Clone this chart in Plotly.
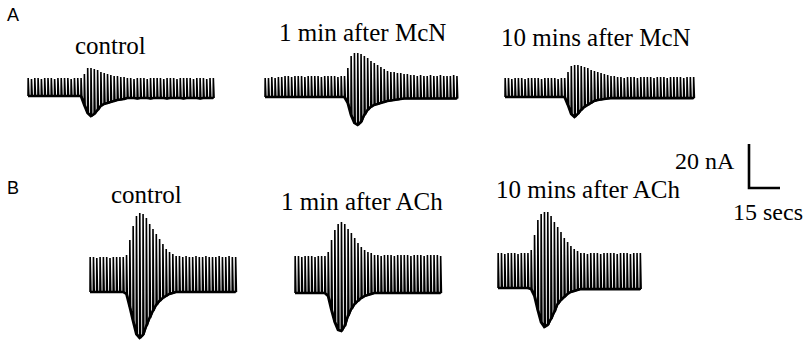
import plotly.graph_objects as go

# ---------------------------------------------------------------------------
# Recorded current responses to repeated test pulses (nA, relative to the
# pre-response baseline). One entry per stimulus; stimuli every STIM_PERIOD s.
# ---------------------------------------------------------------------------
STIM_PERIOD = 1.6  # s

# Row A: McN
a_control_top = [8.2, 7.7, 8.2, 8.2, 7.7, 8.2, 8.2, 8.2, 7.7, 8.2, 8.2, 8.2, 8.2, 7.7, 8.2, 8.2,
                 8.2,
                 10.0, 12.7, 12.7, 12.3, 11.8, 10.9, 10.5, 10.0, 9.5, 9.1, 9.1, 8.6, 8.6,
                 8.2, 8.2, 7.7, 8.2, 8.2, 8.2, 7.7, 8.2, 8.2, 8.2, 8.2, 7.7, 8.2, 8.2, 8.2, 7.7,
                 8.2, 8.2, 8.2, 8.2, 7.7, 8.2, 8.2, 8.2, 7.7, 8.2, 8.2]
a_control_bot = [0.0, 0.0, 0.0, 0.0, 0.0, 0.0, 0.0, 0.0, 0.0, 0.0, 0.0, 0.0, 0.0, 0.0, 0.0, 0.0,
                 0.0,
                 -4.1, -7.7, -9.1, -8.2, -6.4, -4.5, -3.6, -3.2, -2.7, -2.3, -1.8, -1.6, -1.4,
                 -0.9, -0.9, -0.9, -1.1, -0.9, -0.9, -0.9, -1.1, -0.9, -0.9, -0.9, -0.9, -1.1, -0.9,
                 -0.9, -0.9, -0.9, -1.1, -0.9, -0.9, -0.9, -0.9, -1.1, -0.9, -0.9, -0.9, -0.9]

a_mcn1_top = [8.6, 8.6, 9.1, 8.6, 9.1, 9.1,
              9.5, 9.5, 9.1, 9.5, 9.5, 9.5, 9.1, 9.5, 9.5, 9.5, 9.5, 9.1, 9.5, 9.5, 9.5, 9.5, 9.1,
              9.5, 9.5,
              13.2, 18.6, 20.0, 20.0, 19.5, 18.6, 17.7, 16.4, 15.5, 14.5, 13.6, 12.7, 11.8, 11.4,
              11.4, 10.9, 10.9, 10.5, 10.5, 10.0,
              10.0, 9.5, 10.0, 9.5, 9.5, 10.0, 9.5, 9.5, 10.0, 9.5, 9.5, 9.5, 10.0, 9.5]
a_mcn1_bot = [0.0, 0.0, 0.0, 0.0, 0.0, 0.0, 0.0, 0.0, 0.0, 0.0, 0.0, 0.0, 0.0, 0.0, 0.0, 0.0,
              0.0, 0.0, 0.0, 0.0, 0.0, 0.0, 0.0, 0.0, 0.0,
              -2.7, -8.2, -11.8, -12.7, -11.4, -8.2, -5.9, -4.5, -3.6, -3.2, -2.7, -2.3, -1.8,
              -1.6, -1.4, -1.1, -0.9,
              -0.7, -0.7, -0.7, -0.7, -0.7, -0.7, -0.7, -0.7, -0.7, -0.7, -0.7, -0.7, -0.7, -0.7,
              -0.7, -0.7, -0.7]

a_mcn10_top = [8.6, 8.6, 8.2, 8.6, 8.6, 8.6, 8.2, 8.6, 8.6, 8.6, 8.6, 8.2, 8.6, 8.6, 8.6, 8.6,
               8.2, 8.6, 8.6,
               11.4, 14.1, 14.5, 14.5, 14.1, 13.6, 13.2, 12.3, 11.8, 11.4, 10.9, 10.5, 10.0, 9.5,
               9.5,
               9.1, 9.1, 8.6, 9.1, 9.1, 9.1, 8.6, 9.1, 9.1, 9.1, 9.1, 8.6, 9.1, 9.1, 9.1, 8.6,
               9.1, 9.1, 9.1, 9.1, 8.6, 9.1, 9.1, 9.1]
a_mcn10_bot = [0.0, 0.0, 0.0, 0.0, 0.0, 0.0, 0.0, 0.0, 0.0, 0.0, 0.0, 0.0, 0.0, 0.0, 0.0, 0.0,
               0.0, 0.0, 0.0,
               -3.6, -7.7, -9.1, -7.7, -5.9, -4.5, -3.6, -2.7, -1.8, -1.4, -1.1, -0.9, -0.7,
               -0.5, -0.5, -0.5, -0.5, -0.5, -0.5, -0.5, -0.5, -0.5, -0.5, -0.5, -0.5, -0.5,
               -0.5, -0.5, -0.5, -0.5, -0.5, -0.5, -0.5, -0.5, -0.5, -0.5, -0.5, -0.5, -0.5]

# Row B: ACh
b_control_top = [15.9, 15.9, 15.5, 15.9, 15.9, 15.9, 15.5, 15.9, 15.9, 15.9, 15.9,
                 16.8, 23.6, 30.0, 34.5, 35.9, 35.5, 33.6, 30.9, 28.6, 26.4, 24.1, 21.8, 19.5,
                 18.2, 17.3,
                 16.4, 16.4, 15.9, 16.4, 15.9, 15.9, 16.4, 15.9, 15.9, 16.4, 15.9, 15.9, 15.9,
                 16.4, 15.9, 15.9, 16.4, 15.9, 15.9]
b_control_bot = [0.0, 0.0, 0.0, 0.0, 0.0, 0.0, 0.0, 0.0, 0.0, 0.0, 0.0,
                 -0.9, -6.8, -13.2, -19.1, -20.9, -19.5, -15.5, -11.8, -8.6, -5.9, -4.1, -2.7,
                 -1.8, -0.9, -0.5,
                 0.0, 0.0, 0.0, 0.0, 0.0, 0.0, 0.0, 0.0, 0.0, 0.0, 0.0, 0.0, 0.0, 0.0, 0.0, 0.0,
                 0.0, 0.0, 0.0]

b_ach1_top = [16.8, 16.8, 16.4, 16.8, 16.8, 16.8, 16.4, 16.8, 16.8, 16.8,
              18.6, 24.1, 28.6, 31.4, 32.3, 31.4, 29.1, 27.3, 25.0, 22.7, 20.9, 19.5, 18.6, 18.2,
              17.3, 17.3, 16.8, 17.3, 17.3, 17.3, 16.8, 17.3, 17.3, 17.3, 17.3, 16.8, 17.3, 17.3,
              17.3, 16.8, 17.3, 17.3, 17.3, 17.3, 16.8]
b_ach1_bot = [0.0, 0.0, 0.0, 0.0, 0.0, 0.0, 0.0, 0.0, 0.0, 0.0,
              -1.4, -7.7, -13.2, -16.8, -17.3, -15.0, -10.5, -7.3, -5.0, -3.6, -2.3, -1.4, -0.9,
              -0.5,
              0.0, 0.0, 0.0, 0.0, 0.0, 0.0, 0.0, 0.0, 0.0, 0.0, 0.0, 0.0, 0.0, 0.0, 0.0, 0.0,
              0.0, 0.0, 0.0, 0.0, 0.0]

b_ach10_top = [15.9, 15.9, 15.5, 15.9, 15.9, 15.9, 15.5, 15.9, 15.9, 15.9,
               17.3, 24.1, 30.9, 33.6, 34.5, 34.5, 32.7, 30.0, 27.7, 25.5, 22.7, 20.9, 19.1, 17.7,
               16.8,
               15.9, 15.9, 15.5, 15.9, 15.9, 15.9, 15.5, 15.9, 15.9, 15.9, 15.9, 15.5, 15.9, 15.9,
               15.9, 15.5, 15.9, 15.9, 15.9]
b_ach10_bot = [0.0, 0.0, 0.0, 0.0, 0.0, 0.0, 0.0, 0.0, 0.0, 0.0,
               -0.5, -3.6, -10.0, -15.5, -17.7, -16.8, -14.1, -10.9, -7.3, -5.5, -4.1, -2.7,
               -1.8, -1.4, -0.9,
               -0.5, -0.5, -0.5, -0.5, -0.5, -0.5, -0.5, -0.5, -0.5, -0.5, -0.5, -0.5, -0.5,
               -0.5, -0.5, -0.5, -0.5, -0.5, -0.5]

panel_titles = ["control", "1 min after McN", "10 mins after McN",
                "control", "1 min after ACh", "10 mins after ACh"]
row_labels = ["A", "B"]
scale_current = 20  # nA
scale_time = 15     # s
scale_labels = ["20 nA", "15 secs"]

# ---------------------------------------------------------------------------
# Page geometry (pixels) and calibration
# ---------------------------------------------------------------------------
FIG_W, FIG_H = 806, 345
SEC_PER_PX = 15 / 31
NA_PER_PX = 20 / 44


def to_x(px):
    return px * SEC_PER_PX


def to_y(py):
    return -py * NA_PER_PX


# (data, trace start px, baseline px)
panels = [
    (a_control_top, a_control_bot, 28, 96),
    (a_mcn1_top, a_mcn1_bot, 265, 97),
    (a_mcn10_top, a_mcn10_bot, 505, 97),
    (b_control_top, b_control_bot, 90, 292),
    (b_ach1_top, b_ach1_bot, 295, 293),
    (b_ach10_top, b_ach10_bot, 498, 288),
]

INK = "#000000"
fig = go.Figure()

for tops, bots, x0, y0 in panels:
    ox, oy = to_x(x0), to_y(y0)
    px_x, px_y = [], []
    base_x, base_y = [], []
    for i, (top, bot) in enumerate(zip(tops, bots)):
        t = ox + i * STIM_PERIOD
        px_x += [t, t + 0.08, t + 0.45]
        px_y += [oy + bot, oy + top, oy + bot]
        base_x.append(t)
        base_y.append(oy + bot)
    # pen trace: each stimulus draws a vertical deflection
    fig.add_trace(go.Scatter(x=px_x, y=px_y, mode="lines",
                             line=dict(color=INK, width=1.6, simplify=False),
                             hoverinfo="skip"))
    # holding-current line
    fig.add_trace(go.Scatter(x=base_x, y=base_y, mode="lines",
                             line=dict(color=INK, width=2.6, simplify=False),
                             hoverinfo="skip"))

# scale bar
sb_x, sb_y = to_x(749), to_y(188)
fig.add_trace(go.Scatter(
    x=[sb_x, sb_x, sb_x + scale_time],
    y=[sb_y + scale_current, sb_y, sb_y],
    mode="lines", line=dict(color=INK, width=2.6), hoverinfo="skip"))

SERIF = "Liberation Serif, Times New Roman, serif"
title_pos = [(110, 45.5), (362, 32), (595.5, 37.5), (146.5, 194.5), (362, 201.5), (588, 189.5)]
annotations = []
for text, (cx, cy) in zip(panel_titles, title_pos):
    annotations.append(dict(text=text, x=cx / FIG_W, y=1 - cy / FIG_H,
                            xref="paper", yref="paper", xanchor="center", yanchor="middle",
                            showarrow=False, font=dict(family=SERIF, size=25, color=INK)))
for text, (cx, cy) in zip(row_labels, [(13.5, 15), (12.5, 188)]):
    annotations.append(dict(text=text, x=cx / FIG_W, y=1 - cy / FIG_H,
                            xref="paper", yref="paper", xanchor="center", yanchor="middle",
                            showarrow=False,
                            font=dict(family="Liberation Sans, Arial, sans-serif", size=18,
                                      color=INK)))
annotations.append(dict(text=scale_labels[0], x=737 / FIG_W, y=1 - 160.5 / FIG_H,
                        xref="paper", yref="paper", xanchor="right", yanchor="middle",
                        showarrow=False, font=dict(family=SERIF, size=24, color=INK)))
annotations.append(dict(text=scale_labels[1], x=767.5 / FIG_W, y=1 - 211.5 / FIG_H,
                        xref="paper", yref="paper", xanchor="center", yanchor="middle",
                        showarrow=False, font=dict(family=SERIF, size=24, color=INK)))

fig.update_layout(
    width=FIG_W, height=FIG_H,
    margin=dict(l=0, r=0, t=0, b=0),
    paper_bgcolor="white", plot_bgcolor="white",
    showlegend=False,
    annotations=annotations,
    xaxis=dict(range=[0, to_x(FIG_W)], visible=False, fixedrange=True),
    yaxis=dict(range=[to_y(FIG_H), 0], visible=False, fixedrange=True),
)

fig.write_html("out.html")
